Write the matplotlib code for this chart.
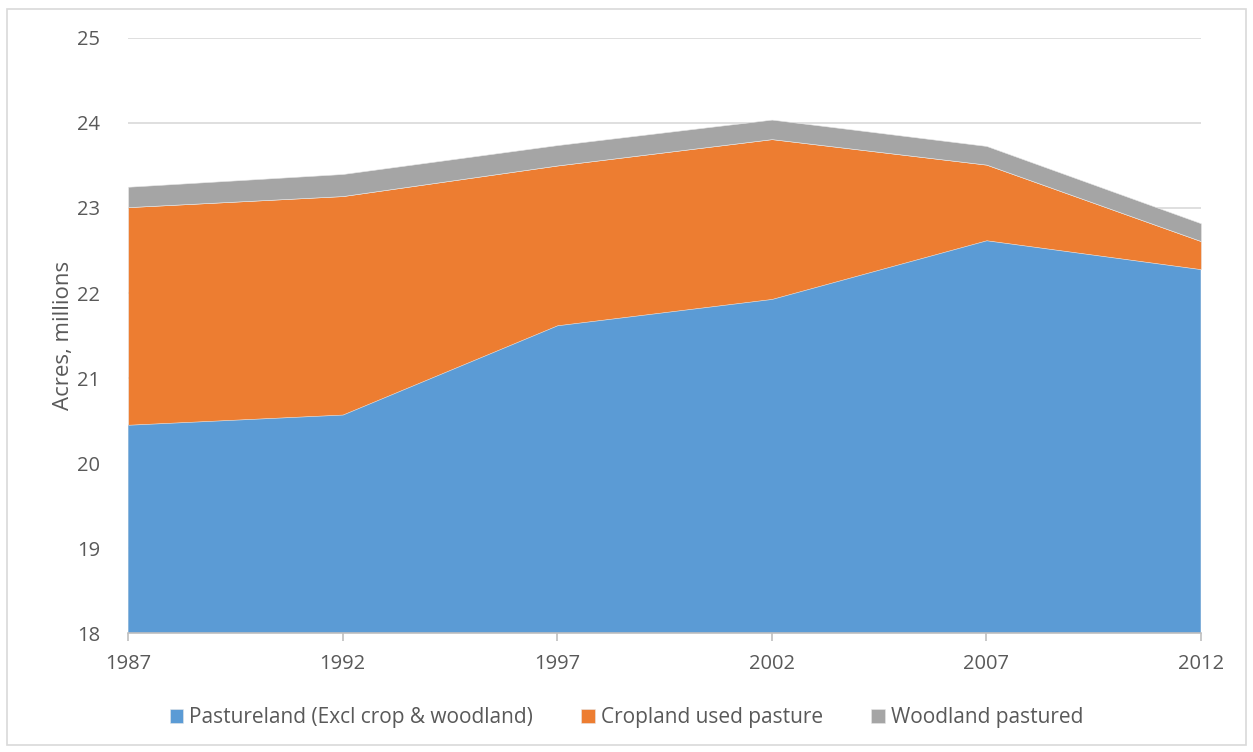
import matplotlib
matplotlib.use('Agg')
import matplotlib.pyplot as plt
from matplotlib.patches import Rectangle

plt.rcParams['font.family'] = ['Open Sans', 'DejaVu Sans']

years = [1987, 1992, 1997, 2002, 2007, 2012]
pasture = [20.45, 20.57, 21.62, 21.93, 22.62, 22.28]
cropland = [2.56, 2.57, 1.88, 1.88, 0.89, 0.33]
woodland = [0.24, 0.26, 0.24, 0.23, 0.22, 0.21]
labels = ['Pastureland (Excl crop & woodland)', 'Cropland used pasture', 'Woodland pastured']
colors = ['#5b9bd5', '#ed7d31', '#a5a5a5']
txt = '#595959'

fig = plt.figure(figsize=(12.53, 7.52), dpi=100)
ax = fig.add_axes([0.1022, 0.1582, 0.8563, 0.7913])

polys = ax.stackplot(years, pasture, cropland, woodland, colors=colors,
                     labels=labels, edgecolor='#e8e8e8', linewidth=0.4)

ax.set_xlim(1987, 2012)
ax.set_ylim(18, 25)
ax.set_yticks(range(18, 26))
ax.set_xticks(years)
ax.grid(axis='y', color='#d9d9d9', linewidth=1.2)
ax.set_axisbelow(True)
for s in ['top', 'right', 'left']:
    ax.spines[s].set_visible(False)
ax.spines['bottom'].set_color('#bfbfbf')
ax.spines['bottom'].set_linewidth(1.2)
ax.spines['bottom'].set_zorder(5)
ax.tick_params(axis='y', length=0, labelsize=14.5, colors=txt, pad=20)
ax.tick_params(axis='x', length=6, color='#bfbfbf', width=1.2, labelsize=14.5,
               labelcolor=txt, pad=9)
ax.set_ylabel('Acres, millions', fontsize=16, color=txt, labelpad=2)

leg = fig.legend(loc='center', bbox_to_anchor=(0.5, 0.046), ncol=3, frameon=False,
                 fontsize=15, handlelength=0.65, handleheight=0.65,
                 handletextpad=0.3, columnspacing=2.3)
for t in leg.get_texts():
    t.set_color(txt)

fig.patches.append(Rectangle((7 / 1253, 7 / 752), 1239 / 1253, 736 / 752,
                             transform=fig.transFigure, fill=False,
                             edgecolor='#d9d9d9', linewidth=1.2))

fig.savefig('out.png', dpi=100)
